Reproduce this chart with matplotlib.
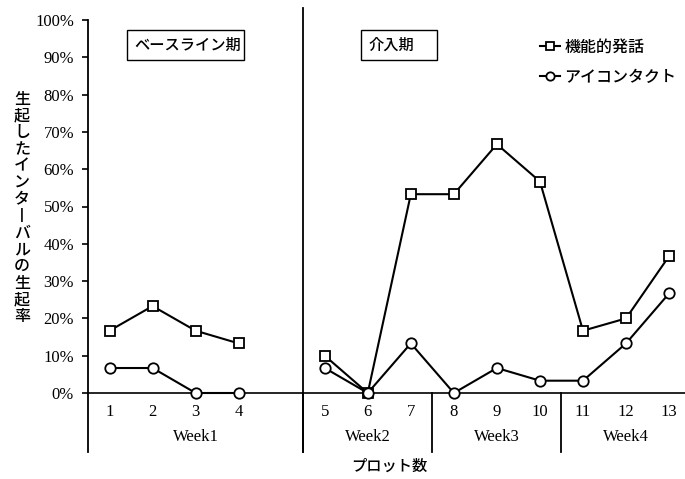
import matplotlib
matplotlib.use("Agg")
import matplotlib.pyplot as plt
from matplotlib.patches import Rectangle

# ---- data ----
plot_numbers = [1, 2, 3, 4, 5, 6, 7, 8, 9, 10, 11, 12, 13]
phases = ["baseline"] * 4 + ["intervention"] * 9
weeks = ["Week1", "Week1", "Week1", "Week1", "Week2", "Week2", "Week2",
         "Week3", "Week3", "Week3", "Week4", "Week4", "Week4"]
functional_speech = [16.7, 23.3, 16.7, 13.3, 10.0, 0.0, 53.3, 53.3, 66.7, 56.7, 16.7, 20.0, 36.7]
eye_contact = [6.7, 6.7, 0.0, 0.0, 6.7, 0.0, 13.3, 0.0, 6.7, 3.3, 3.3, 13.3, 26.7]
series_names = ["機能的発話", "アイコンタクト"]
phase_names = {"baseline": "ベースライン期", "intervention": "介入期"}
y_ticks = [0, 10, 20, 30, 40, 50, 60, 70, 80, 90, 100]
ylabel = "生起したインターバルの生起率"
xlabel = "プロット数"

JP = ["Noto Sans CJK JP", "DejaVu Sans"]
SERIF = ["Liberation Serif", "DejaVu Serif"]
JPW = "medium"

# positions: leave one empty slot at the phase change
pos = [i + (1 if ph == "intervention" else 0) for i, ph in enumerate(phases)]

fig = plt.figure(figsize=(6.85, 4.79), dpi=100)
ax = fig.add_axes([88 / 685, (479 - 452) / 479, 1 - 88 / 685, (452 - 20) / 479])
ymin = -(452 - 393) / 3.73
ax.set_ylim(ymin, 100)
ax.set_xlim(-0.5, 13.37)

for s in ["top", "right", "bottom"]:
    ax.spines[s].set_visible(False)
ax.spines["left"].set_linewidth(1.3)
ax.set_xticks([])
ax.set_yticks(y_ticks)
ax.set_yticklabels([f"{v}%" for v in y_ticks], fontfamily=SERIF, fontsize=12)
ax.tick_params(axis="y", direction="out", length=4, width=1.2, pad=6)

# zero line
ax.axhline(0, color="black", lw=1.2)

# series, broken at phase change
styles = [("s", functional_speech), ("o", eye_contact)]
handles = []
for (mk, vals), name in zip(styles, series_names):
    for ph in ["baseline", "intervention"]:
        xs = [p for p, q in zip(pos, phases) if q == ph]
        ys = [v for v, q in zip(vals, phases) if q == ph]
        h, = ax.plot(xs, ys, color="black", lw=1.5, marker=mk, ms=7.5 if mk == "o" else 7,
                     mfc="white", mec="black", mew=1.3, clip_on=False, zorder=3)
    handles.append(h)

# phase line (just before the first intervention point)
first_int = min(p for p, q in zip(pos, phases) if q == "intervention")
phase_x = first_int - 0.5
ax.plot([phase_x, phase_x], [ymin, 103.2], color="black", lw=1.3, clip_on=False)

# week separators and labels
week_order = []
for w in weeks:
    if w not in week_order:
        week_order.append(w)
bounds = [-0.5]
for w in week_order[1:]:
    first = min(p for p, ww in zip(pos, weeks) if ww == w)
    bounds.append(first - 0.5)
bounds.append(pos[-1] + 0.5)
for b in bounds[1:-1]:
    ax.plot([b, b], [ymin, 0], color="black", lw=1.3, clip_on=False)
for w, a, b in zip(week_order, bounds[:-1], bounds[1:]):
    ax.text((a + b) / 2, -11.7, w, ha="center", va="center", fontfamily=SERIF, fontsize=12)

# plot numbers
for p, n in zip(pos, plot_numbers):
    ax.text(p, -5.0, str(n), ha="center", va="center", fontfamily=SERIF, fontsize=12)

# x label
fig.text(389 / 685, 1 - 466 / 479, xlabel, ha="center", va="center", fontfamily=JP,
         fontsize=11, fontweight=JPW)

# y label (vertical writing)
vert = "\n".join("丨" if c == "ー" else c for c in ylabel)
fig.text(22 / 685, 1 - 208 / 479, vert, ha="center", va="center", fontfamily=JP,
         fontsize=11.5, linespacing=0.98, fontweight=JPW)

# phase boxes
def px2x(px):
    return (px - 110) / 43
def py2y(py):
    return (393 - py) / 3.73

for (x0, x1), key in [((127, 244), "baseline"), ((361, 437), "intervention")]:
    ax.add_patch(Rectangle((px2x(x0), py2y(60)), px2x(x1) - px2x(x0), py2y(30) - py2y(60),
                           fill=False, ec="black", lw=1.0, clip_on=False))
    ax.text(px2x(x0 + 8), py2y(45), phase_names[key], ha="left", va="center",
            fontfamily=JP, fontsize=11, fontweight=JPW)

# legend
leg = ax.legend(handles, series_names, loc="upper left", frameon=False, handlelength=1.2,
                handletextpad=0.3, labelspacing=0.85,
                prop={"family": JP, "size": 11.5, "weight": JPW}, markerscale=0.8)
leg.set_bbox_to_anchor(((526 - 88) / (685 - 88), (452 - 24) / (452 - 20)), transform=ax.transAxes)

fig.savefig("out.png", dpi=100)
